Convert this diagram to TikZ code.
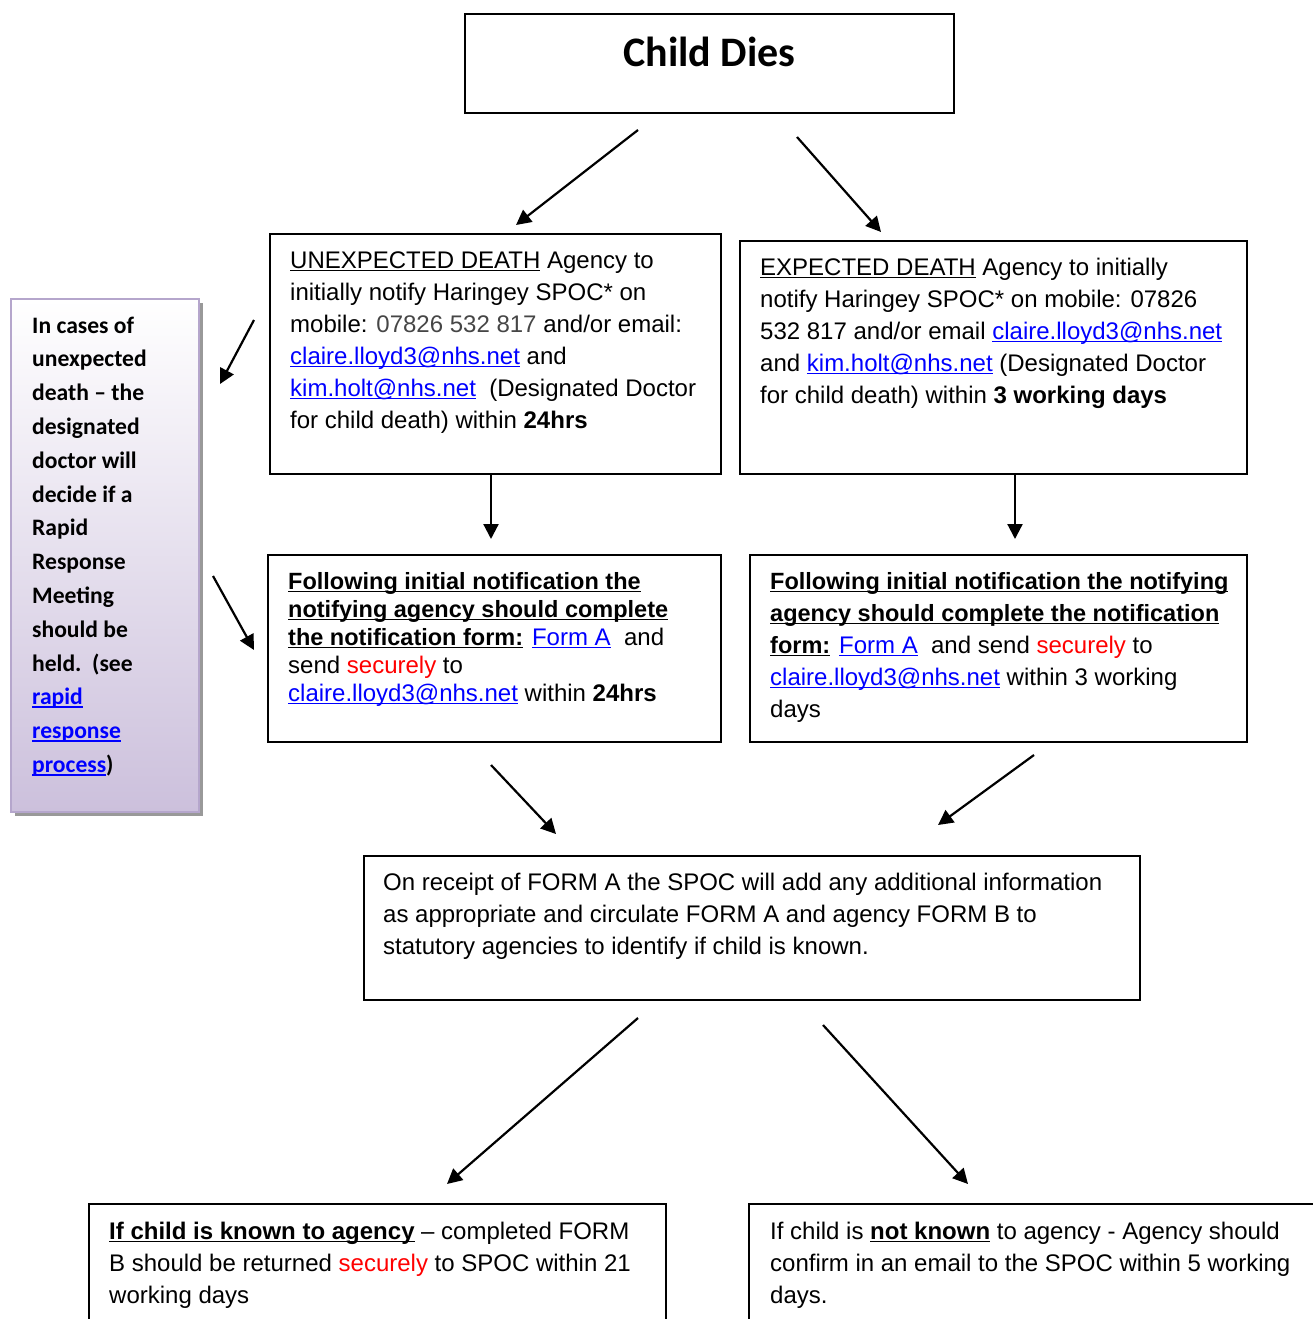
\documentclass[tikz,border=0pt]{standalone}
\usepackage{fontspec}
\setmainfont{Liberation Sans}
\newfontfamily\calibri{Carlito}
\usetikzlibrary{arrows.meta}
\usetikzlibrary{shapes}
\usetikzlibrary{backgrounds,shadows}

\definecolor{linkblue}{RGB}{0,0,255}
\definecolor{securered}{RGB}{255,0,0}
\definecolor{phonegray}{RGB}{70,70,70}
\definecolor{lilacedge}{RGB}{181,166,204}
\definecolor{lilacfill}{RGB}{204,192,220}

\newlength\ulwidth
\newcommand\ulin[1]{\leavevmode\settowidth\ulwidth{#1}\rlap{\rule[-0.13em]{\ulwidth}{0.07em}}{#1}}
\newcommand\lnk[1]{\textcolor{linkblue}{\ulin{#1}}}
\newcommand\securely{\textcolor{securered}{securely}}
\newcommand\headfont{\fontsize{23.5}{28}\selectfont\bfseries}

\begin{document}
\begin{tikzpicture}[x=1pt, y=-1pt,
    box/.style={draw, line width=1.6pt, inner sep=0pt, outer sep=0pt, anchor=north west},
    txt/.style={anchor=north west, inner sep=0pt, align=left, font={\fontsize{24}{32}\selectfont}},
    flow/.style={-{Triangle[length=15pt, width=15pt]}, line width=2.2pt}]

    \useasboundingbox (0,0) rectangle (1313,1319);
    \clip (0,0) rectangle (1313,1319);

    % Declare the boxes
    \node[box, minimum width=489pt, minimum height=99pt] at (465, 14) (dies) {};
    \node[box, minimum width=451pt, minimum height=240pt] at (270, 234) (unexp) {};
    \node[box, minimum width=507pt, minimum height=233pt] at (740, 241) (exp) {};
    \node[box, minimum width=453pt, minimum height=187pt] at (268, 555) (formL) {};
    \node[box, minimum width=497pt, minimum height=187pt] at (750, 555) (formR) {};
    \node[box, minimum width=776pt, minimum height=144pt] at (364, 856) (spoc) {};
    \node[box, minimum width=577pt, minimum height=200pt] at (89, 1204) (knownL) {};
    \node[box, minimum width=700pt, minimum height=200pt] at (749, 1204) (knownR) {};
    \node[anchor=north west, draw=lilacedge, line width=2pt, inner sep=0pt, outer sep=0pt,
          top color=white, bottom color=lilacfill,
          drop shadow={shadow xshift=4pt, shadow yshift=-4pt, fill=black!40, opacity=1},
          minimum width=188pt, minimum height=513pt] at (11, 299) (rapid) {};

    % Declare the texts
    \node[anchor=base, inner sep=0pt, font={\calibri\bfseries\fontsize{42}{50}\selectfont}]
        at (709.5, 67) (diesT) {Child Dies};

    \node[txt] at (290, 245.6) (unexpT) {\strut\ulin{UNEXPECTED DEATH} Agency to\\
        initially notify Haringey SPOC* on\\
        mobile: \textcolor{phonegray}{07826 532 817} and/or email:\\
        \lnk{claire.lloyd3@nhs.net} and\\
        \lnk{kim.holt@nhs.net}\ \ (Designated Doctor\\
        for child death) within \textbf{24hrs}};

    \node[txt] at (760, 252.6) (expT) {\strut\ulin{EXPECTED DEATH} Agency to initially\\
        notify Haringey SPOC* on mobile: 07826\\
        532 817 and/or email \lnk{claire.lloyd3@nhs.net}\\
        and \lnk{kim.holt@nhs.net} (Designated Doctor\\
        for child death) within \textbf{3 working days}};

    \node[txt, font={\fontsize{24}{28}\selectfont}] at (288, 569.4) (formLT)
        {\strut\ulin{\headfont Following initial notification the}\\
        \ulin{\headfont notifying agency should complete}\\
        \ulin{\headfont the notification form:} \lnk{Form A}\ \ and\\
        send \securely{} to\\
        \lnk{claire.lloyd3@nhs.net} within \textbf{24hrs}};

    \node[txt] at (770, 566.6) (formRT)
        {\strut\ulin{\headfont Following initial notification the notifying}\\
        \ulin{\headfont agency should complete the notification}\\
        \ulin{\headfont form:} \lnk{Form A}\ \ and send \securely{} to\\
        \lnk{claire.lloyd3@nhs.net} within 3 working\\
        days};

    \node[txt] at (383, 867.6) (spocT)
        {\strut On receipt of FORM A the SPOC will add any additional information\\
        as appropriate and circulate FORM A and agency FORM B to\\
        statutory agencies to identify if child is known.};

    \node[txt] at (109, 1216.6) (knownLT)
        {\strut\ulin{\textbf{If child is known to agency}} – completed FORM\\
        B should be returned \securely{} to SPOC within 21\\
        working days};

    \node[txt] at (770, 1216.6) (knownRT)
        {\strut If child is \ulin{\textbf{not known}} to agency - Agency should\\
        confirm in an email to the SPOC within 5 working\\
        days.};

    \node[txt, font={\calibri\bfseries\fontsize{23.6}{33.8}\selectfont}] at (32, 309.3) (rapidT)
        {\strut In cases of\\
        unexpected\\
        death – the\\
        designated\\
        doctor will\\
        decide if a\\
        Rapid\\
        Response\\
        Meeting\\
        should be\\
        held.\ \ (see\\
        \lnk{rapid}\\
        \lnk{response}\\
        \lnk{process})};

    % Declare arrow ends
    \coordinate (a1) at (638, 130);   \coordinate (t1) at (516, 225);
    \coordinate (a2) at (797, 137);   \coordinate (t2) at (881, 232);
    \coordinate (a3) at (254, 320);   \coordinate (t3) at (220, 384);
    \coordinate (a4) at (213, 576);   \coordinate (t4) at (254, 650);
    \coordinate (t5) at (491, 539);
    \coordinate (t6) at (1015, 539);
    \coordinate (a7) at (491, 765);   \coordinate (t7) at (556, 834);
    \coordinate (a8) at (1034, 755);  \coordinate (t8) at (938, 825);
    \coordinate (a9) at (638, 1018);  \coordinate (t9) at (447, 1184);
    \coordinate (a10) at (823, 1025); \coordinate (t10) at (968, 1184);

    % Declare edges
    \draw[flow] (a1) -- (t1);
    \draw[flow] (a2) -- (t2);
    \draw[flow] (a3) -- (t3);
    \draw[flow] (a4) -- (t4);
    \draw[flow] (unexp.south -| t5) -- (t5);
    \draw[flow] (exp.south -| t6) -- (t6);
    \draw[flow] (a7) -- (t7);
    \draw[flow] (a8) -- (t8);
    \draw[flow] (a9) -- (t9);
    \draw[flow] (a10) -- (t10);

\end{tikzpicture}
\end{document}
